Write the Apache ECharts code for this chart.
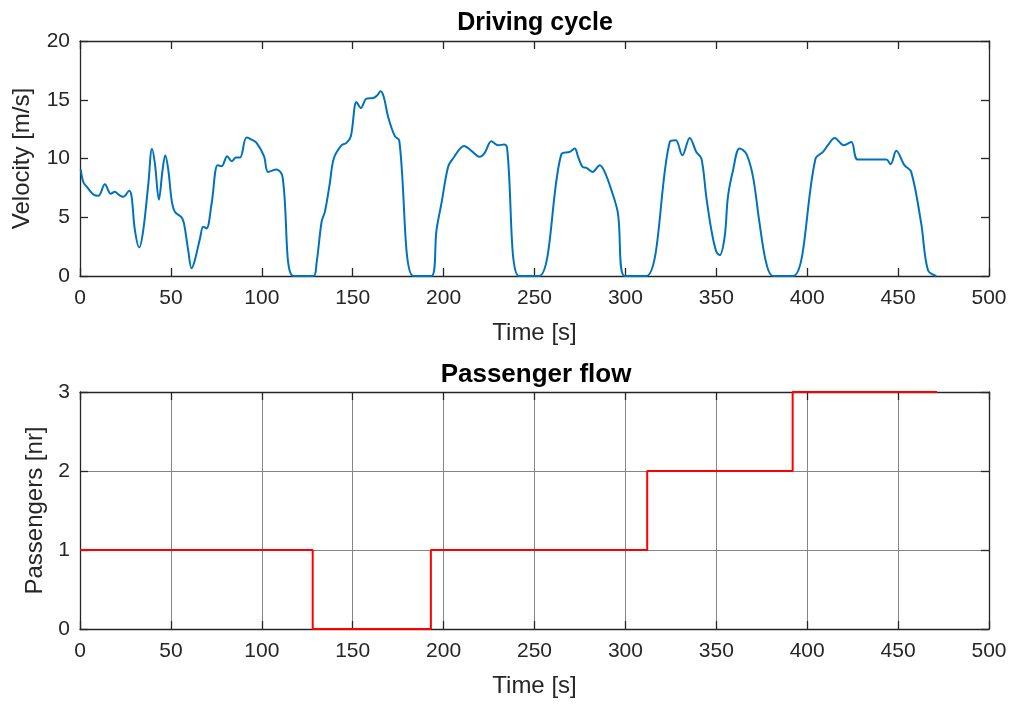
<!DOCTYPE html>
<html>
<head>
<meta charset="utf-8">
<script src="https://cdn.jsdelivr.net/npm/echarts@6/dist/echarts.min.js"></script>
<style>
html,body{margin:0;padding:0;background:#fff;}
#chart{width:1013px;height:704px;}
</style>
</head>
<body>
<div id="chart"></div>
<script>
// Driving cycle: time [s] and velocity [m/s]
const velTime = [0.4,1.8,3.7,7.3,10.1,13.7,16.9,19.2,21.1,23.8,27.1,28.4,30.2,32.6,34.8,37.6,39.6,41.2,43.4,45.4,46.9,48.6,50.4,52.2,55.9,57.2,59.5,61.4,63.2,66,67.8,69.6,72.4,75.7,77.9,81,83.4,85.8,88,91.6,94.4,97.1,101.2,103.5,108.1,111.4,117.3,128.3,130.1,132.9,134.7,137.4,139.6,143.9,146.6,149,152.1,154.5,157.6,161.3,163.5,165.3,167.1,169.5,173.2,175.6,183.3,193.3,196.1,198.8,202.5,205.2,211.3,215.3,219.9,222.6,226.3,230,233.3,234.9,241.5,252.5,264.8,269.4,272.1,274,276.4,278.6,281.9,285.9,288.6,292.3,295.9,299.6,311.5,324.4,327.7,331.3,335.4,339,341.8,344.5,347.3,350,351.9,354.6,356.4,359.2,362.8,366.5,370.2,373.8,377.5,381.2,392.2,404.6,408.7,411.4,415.1,420.1,424.3,427.9,443.5,445.9,449,453.5,457.2,462.7,466.4,471];
const velValues = [9.07,8.0,7.6,6.94,6.83,7.8,7.0,7.17,6.94,6.74,7.25,6.74,3.9,2.43,3.9,7.87,10.82,9.57,6.5,9.0,10.28,9.0,6.46,5.46,4.99,4.48,2.2,0.65,1.36,3.2,4.19,4.05,6.17,9.43,9.35,10.2,9.77,10.08,10.08,11.78,11.61,11.33,10.2,8.86,9.06,8.44,0,0,1.08,4.62,5.46,7.87,10.0,11.13,11.33,11.9,14.81,14.3,15.1,15.15,15.38,15.72,15.24,13.54,11.9,11.55,0,0,3.9,6.17,9.29,10.0,11.07,10.65,10.14,10.48,11.47,11.13,11.19,10.93,0,0,10.37,10.56,10.85,10.14,9.29,9.2,8.86,9.43,8.86,7.31,5.33,0,0,11.41,11.55,10.28,11.75,10.56,10.0,6.74,3.9,2.07,1.78,3.34,6.74,9.0,10.85,10.42,8.44,4.48,1.08,0,0,10.0,10.56,11.13,11.75,11.13,11.41,9.91,9.91,9.52,10.65,9.43,8.86,4.48,0.51,0];

// Passenger flow: change times [s] and passenger counts [nr]
const paxTime = [0,128,193,312,392,471.5];
const paxCount = [1,0,1,2,3,3];

const FONT = '"Liberation Sans", Arial, Helvetica, sans-serif';
const AX = '#262626';
const GRIDC = '#858585';
const tickStyle = {show:true, inside:true, length:8, lineStyle:{color:AX, width:1.3}};
const lineStyleAx = {show:true, onZero:false, lineStyle:{color:AX, width:1.3}};

function xAxisMain(gi){
  return {type:'value', gridIndex:gi, min:0, max:500, interval:50, position:'bottom',
    name:'Time [s]', nameLocation:'middle', nameGap:45,
    nameTextStyle:{fontFamily:FONT, fontSize:24, color:AX},
    axisLine:lineStyleAx, axisTick:tickStyle,
    axisLabel:{fontFamily:FONT, fontSize:21, color:AX, margin:12},
    splitLine:{show: gi===1, lineStyle:{color:GRIDC, width:1}}};
}
function xAxisTop(gi){
  return {type:'value', gridIndex:gi, min:0, max:500, interval:50, position:'top',
    axisLine:lineStyleAx, axisTick:tickStyle,
    axisLabel:{show:false}, splitLine:{show:false}};
}
function yAxisLeft(gi, max, interval, name, gap, grid){
  return {type:'value', gridIndex:gi, min:0, max:max, interval:interval, position:'left',
    name:name, nameLocation:'middle', nameGap:gap, nameRotate:90,
    nameTextStyle:{fontFamily:FONT, fontSize:24, color:AX},
    axisLine:lineStyleAx, axisTick:tickStyle,
    axisLabel:{fontFamily:FONT, fontSize:21, color:AX, margin:10},
    splitLine:{show:grid, lineStyle:{color:GRIDC, width:1}}};
}
function yAxisRight(gi, max, interval){
  return {type:'value', gridIndex:gi, min:0, max:max, interval:interval, position:'right',
    axisLine:lineStyleAx, axisTick:tickStyle,
    axisLabel:{show:false}, splitLine:{show:false}};
}

const chart = echarts.init(document.getElementById('chart'), null, {renderer:'canvas'});
chart.setOption({
  animation:false,
  backgroundColor:'#ffffff',
  title:[
    {text:'Driving cycle', left:530, top:6, textAlign:'center',
     textStyle:{fontFamily:FONT, fontSize:25, fontWeight:'bold', color:'#000'}},
    {text:'Passenger flow', left:531, top:357, textAlign:'center',
     textStyle:{fontFamily:FONT, fontSize:26, fontWeight:'bold', color:'#000'}}
  ],
  grid:[
    {left:80, right:24, top:41, height:235},
    {left:80, right:24, top:392, height:237}
  ],
  xAxis:[xAxisMain(0), xAxisTop(0), xAxisMain(1), xAxisTop(1)],
  yAxis:[
    yAxisLeft(0, 20, 5, 'Velocity [m/s]', 46, false),
    yAxisRight(0, 20, 5),
    yAxisLeft(1, 3, 1, 'Passengers [nr]', 33, true),
    yAxisRight(1, 3, 1)
  ],
  series:[
    {type:'line', xAxisIndex:0, yAxisIndex:0, showSymbol:false, smooth:0.35,
     lineStyle:{color:'#0072BD', width:2}, itemStyle:{color:'#0072BD'},
     data: velTime.map((t,i)=>[t, velValues[i]])},
    {type:'line', xAxisIndex:2, yAxisIndex:2, showSymbol:false, step:'end',
     lineStyle:{color:'#ff0000', width:2}, itemStyle:{color:'#ff0000'},
     data: paxTime.map((t,i)=>[t, paxCount[i]])}
  ]
});
</script>
</body>
</html>
